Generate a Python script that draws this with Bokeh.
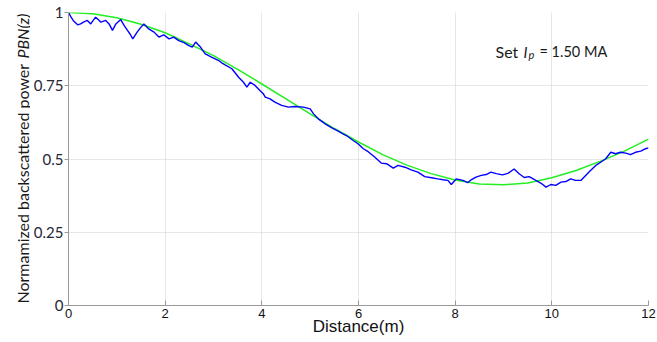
import numpy as np
from bokeh.plotting import figure
from bokeh.layouts import row
from bokeh.models import Label, Range1d, NumeralTickFormatter
from bokeh.embed import file_html
from bokeh.resources import INLINE

# ---- data ----
x_ticks = [0, 2, 4, 6, 8, 10, 12]
y_ticks = [0, 0.25, 0.5, 0.75, 1]

fit_x = [0, 0.5, 1, 1.5, 2, 2.5, 3, 3.5, 4, 4.5, 5, 5.5, 6, 6.5, 7, 7.5, 8,
         8.5, 9, 9.5, 10, 10.5, 11, 11.5, 12]
fit_y = [1.000, 0.996, 0.982, 0.960, 0.931, 0.893, 0.853, 0.806, 0.756, 0.705,
         0.654, 0.604, 0.558, 0.515, 0.479, 0.450, 0.428, 0.415, 0.412, 0.418,
         0.436, 0.461, 0.492, 0.527, 0.568]

meas_x = [0.00, 0.05, 0.10, 0.19, 0.25, 0.32, 0.39, 0.46, 0.56, 0.62, 0.67, 0.77,
          0.84, 0.91, 0.98, 1.08, 1.15, 1.22, 1.28, 1.33, 1.42, 1.50, 1.56, 1.66,
          1.77, 1.87, 1.97, 2.08, 2.18, 2.28, 2.39, 2.49, 2.56, 2.63, 2.73, 2.83,
          2.97, 3.11, 3.18, 3.24, 3.38, 3.52, 3.62, 3.69, 3.76, 3.86, 3.96, 4.03,
          4.07, 4.17, 4.27, 4.41, 4.55, 4.69, 4.86, 5.00, 5.07, 5.17, 5.31, 5.44,
          5.58, 5.68, 5.75, 5.89, 5.99, 6.10, 6.20, 6.34, 6.47, 6.58, 6.72, 6.82,
          6.96, 7.09, 7.23, 7.37, 7.51, 7.64, 7.75, 7.85, 7.92, 8.02, 8.16, 8.26,
          8.33, 8.43, 8.54, 8.64, 8.74, 8.85, 8.98, 9.09, 9.22, 9.33, 9.43, 9.53,
          9.67, 9.77, 9.88, 9.98, 10.08, 10.19, 10.29, 10.39, 10.49, 10.60, 10.70,
          10.80, 10.91, 11.01, 11.11, 11.22, 11.32, 11.42, 11.53, 11.63, 11.73,
          11.84, 11.94, 12.00]
meas_y = [1.000, 0.985, 0.972, 0.958, 0.961, 0.968, 0.973, 0.961, 0.984, 0.975, 0.967, 0.973,
          0.961, 0.939, 0.961, 0.976, 0.956, 0.939, 0.925, 0.910, 0.933, 0.950, 0.961, 0.944,
          0.933, 0.916, 0.924, 0.910, 0.916, 0.904, 0.897, 0.887, 0.882, 0.899, 0.882, 0.859,
          0.847, 0.836, 0.827, 0.821, 0.808, 0.779, 0.762, 0.745, 0.762, 0.751, 0.734, 0.723,
          0.711, 0.705, 0.694, 0.683, 0.677, 0.679, 0.677, 0.671, 0.654, 0.637, 0.620, 0.607,
          0.595, 0.586, 0.580, 0.563, 0.552, 0.535, 0.525, 0.506, 0.486, 0.484, 0.469, 0.478,
          0.472, 0.463, 0.455, 0.440, 0.436, 0.432, 0.429, 0.427, 0.413, 0.432, 0.427, 0.419,
          0.429, 0.438, 0.444, 0.447, 0.455, 0.450, 0.446, 0.451, 0.466, 0.449, 0.437, 0.440,
          0.427, 0.418, 0.404, 0.413, 0.410, 0.421, 0.423, 0.432, 0.427, 0.427, 0.444,
          0.461, 0.478, 0.489, 0.500, 0.523, 0.518, 0.523, 0.520, 0.515, 0.523,
          0.527, 0.535, 0.538]

x_label = "Distance(m)"
y_label_plain = "Normamized backscattered power"
y_label_italic = "PBN(z)"

H = 342
LW = 30          # width of the strip that holds the vertical axis title
FRAME_BOTTOM = 305  # page y of the plotting frame's bottom edge

# ---- strip with the vertical axis title (its frame is aligned with the main frame) ----
ylab = figure(width=LW, height=H, output_backend="svg", toolbar_location=None,
              x_axis_location=None, y_axis_location=None,
              min_border=0, x_range=Range1d(0, 1), y_range=Range1d(0, 1))
ylab.outline_line_color = None
ylab.grid.visible = False
ylab.add_layout(Label(x=22, y=FRAME_BOTTOM - 303, x_units="screen", y_units="screen",
                      text=y_label_plain, angle=np.pi / 2, text_align="left",
                      text_baseline="alphabetic", text_font="Lato",
                      text_font_size="16px", text_color="#1a1a1a"))
ylab.add_layout(Label(x=22, y=FRAME_BOTTOM - 13, x_units="screen", y_units="screen",
                      text=y_label_italic, angle=np.pi / 2, text_align="right",
                      text_baseline="alphabetic", text_font="Lato",
                      text_font_size="16px", text_font_style="italic",
                      text_color="#1a1a1a"))

# ---- main figure ----
p = figure(width=657 - LW, height=H, output_backend="svg", toolbar_location=None,
           x_range=Range1d(0, 12), y_range=Range1d(0, 1),
           min_border_left=66 - LW, min_border_right=9, min_border_top=12,
           min_border_bottom=H - FRAME_BOTTOM)
p.outline_line_color = None
p.background_fill_color = "white"

p.xaxis.ticker = x_ticks
p.yaxis.ticker = y_ticks
p.yaxis.formatter = NumeralTickFormatter(format="0.[00]")

for ax in (p.xaxis[0], p.yaxis[0]):
    ax.axis_line_color = "#9a9a9a"
    ax.major_tick_line_color = "#9a9a9a"
    ax.minor_tick_line_color = None

p.xaxis.major_tick_in = 5
p.xaxis.major_tick_out = 0
p.xaxis.major_label_standoff = 3
p.xaxis.major_label_text_font = "Liberation Sans"
p.xaxis.major_label_text_font_size = "13px"
p.xaxis.major_label_text_color = "#111111"
p.xaxis.axis_label = x_label
p.xaxis.axis_label_standoff = -4
p.xaxis.axis_label_text_font = "Liberation Sans"
p.xaxis.axis_label_text_font_size = "17px"
p.xaxis.axis_label_text_font_style = "normal"
p.xaxis.axis_label_text_color = "#111111"

p.yaxis.major_tick_in = 0
p.yaxis.major_tick_out = 4
p.yaxis.major_label_standoff = 1
p.yaxis.major_label_text_font = "Lato"
p.yaxis.major_label_text_font_size = "15px"
p.yaxis.major_label_text_color = "#262636"

for g in (p.xgrid[0], p.ygrid[0]):
    g.grid_line_color = "#cfcfcf"
    g.grid_line_dash = "1 1"
    g.grid_line_width = 1

p.line(fit_x, fit_y, line_color="#22ee22", line_width=1.5)
p.line(meas_x, meas_y, line_color="#0000ff", line_width=1.4)

# annotation, positions given in page pixels (frame: left x=66, bottom y=305)
def L(text, px, py, size="15px", style="normal"):
    return Label(x=px - 66, y=FRAME_BOTTOM - py, x_units="screen", y_units="screen",
                 text=text, text_font="Lato", text_font_size=size,
                 text_font_style=style, text_baseline="alphabetic",
                 text_color="#1a1a1a")

p.add_layout(L("Set", 493, 51, size="16px"))
p.add_layout(L("I", 521, 51, size="15px", style="italic"))
p.add_layout(L("p", 526, 54, size="11px", style="italic"))
p.add_layout(L("= 1.50 MA", 537, 51, size="14.5px"))

open("out.html", "w").write(file_html(row(ylab, p), INLINE))
